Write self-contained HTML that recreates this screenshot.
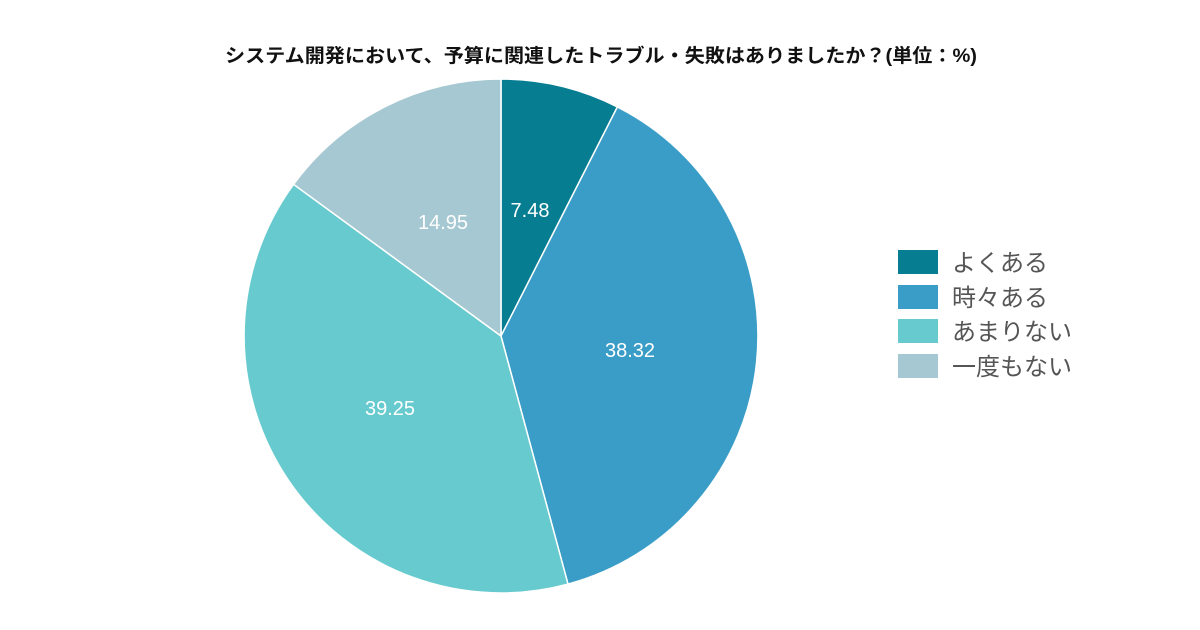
<!DOCTYPE html>
<html><head><meta charset="utf-8"><style>
body{margin:0;background:#fff;}
svg{display:block;}
</style></head><body>
<svg width="1200" height="630" xmlns="http://www.w3.org/2000/svg" font-family="'Liberation Sans','Noto Sans CJK JP',sans-serif">
<rect width="1200" height="630" fill="#fff"/>
<text x="225" y="62" font-size="19" font-weight="bold" fill="#111" textLength="752" lengthAdjust="spacingAndGlyphs">システム開発において、予算に関連したトラブル・失敗はありましたか？(単位：%)</text>
<g stroke="#fff" stroke-width="1.5">
<path d="M501,336 L501,79 A257,257 0 0 1 617.4,106.9 Z" fill="#077d91"/>
<path d="M501,336 L617.4,106.9 A257,257 0 0 1 568.0,584.1 Z" fill="#3a9dc7"/>
<path d="M501,336 L568.0,584.1 A257,257 0 0 1 293.6,184.3 Z" fill="#66cace"/>
<path d="M501,336 L293.6,184.3 A257,257 0 0 1 501,79 Z" fill="#a6c8d2"/>
</g>
<g fill="#fff" font-size="20" text-anchor="middle">
<text x="530" y="217">7.48</text>
<text x="630" y="357">38.32</text>
<text x="390" y="415">39.25</text>
<text x="443" y="229">14.95</text>
</g>
<rect x="898" y="250" width="40" height="24" fill="#077d91"/>
<rect x="898" y="285" width="40" height="24" fill="#3a9dc7"/>
<rect x="898" y="319" width="40" height="24" fill="#66cace"/>
<rect x="898" y="354" width="40" height="24" fill="#a6c8d2"/>
<g fill="#555" font-size="24">
<text x="952" y="271">よくある</text>
<text x="952" y="306">時々ある</text>
<text x="952" y="340">あまりない</text>
<text x="952" y="375">一度もない</text>
</g>
</svg>
</body></html>
